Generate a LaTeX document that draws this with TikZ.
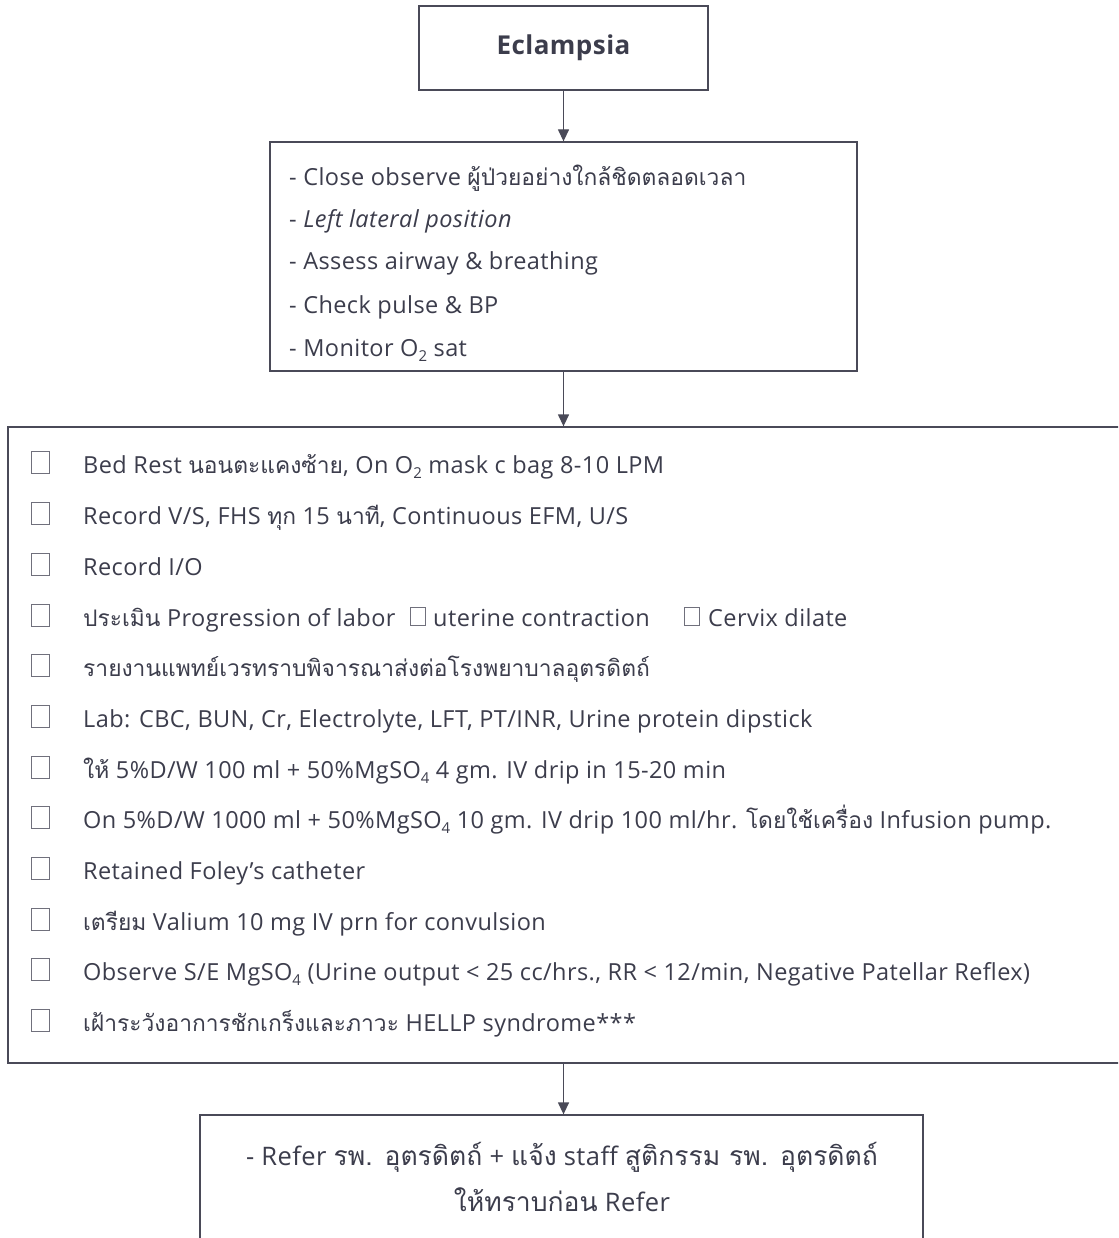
\documentclass[tikz,border=0pt]{standalone}
\usepackage{fontspec}
\setmainfont[LetterSpace=1.8]{Open Sans}
\newfontfamily\thaifont[Script=Thai]{Loma}
\usetikzlibrary{arrows.meta}
\definecolor{ink}{HTML}{3C3D4C}
\definecolor{frame}{HTML}{4A4A58}
\definecolor{tickc}{HTML}{70707C}
% Thai runs are set in Loma
\newcommand{\tha}[1]{{\thaifont\fontsize{22.8}{26}\selectfont #1}}
\newcommand{\thb}[1]{{\thaifont\fontsize{26.5}{30}\selectfont #1}}
\newcommand{\lowsub}[1]{\raisebox{-0.4ex}{\fontsize{15}{15}\selectfont #1}}
\tikzset{
  box/.style={draw=frame, line width=1.3pt, inner sep=0pt},
  flow/.style={draw=frame, line width=1.3pt, -{Triangle[length=12pt,width=11pt]}},
  item/.style={anchor=base west, text=ink, inner sep=0pt, font=\fontsize{23.5}{26}\selectfont},
  centred/.style={anchor=base, text=ink, inner sep=0pt, font=\fontsize{25.5}{30}\selectfont},
  tickbox/.style={draw=tickc, line width=0.9pt, minimum width=18pt, minimum height=22pt, inner sep=0pt},
  smalltick/.style={draw=tickc, line width=0.9pt, minimum width=15pt, minimum height=18pt, inner sep=0pt},
}
\begin{document}
\begin{tikzpicture}[x=1pt,y=-1pt]
\useasboundingbox (0,0) rectangle (1118,1238);
\fill[white] (0,0) rectangle (1118,1238);
\clip (0,0) rectangle (1118,1238);

% boxes
\node[box, minimum width=289pt, minimum height=84pt, text=ink,
      font=\fontsize{26}{30}\selectfont\bfseries] (start) at (563.5,48) {Eclampsia};
\node[box, minimum width=587pt, minimum height=229pt] (assess) at (563.5,256.5) {};
\node[box, minimum width=1122pt, minimum height=636pt] (care) at (569,745) {};
\node[box, minimum width=723pt, minimum height=135pt] (refer) at (561.5,1182.5) {};

% connectors
\draw[flow] (start.south) -- (start.south |- assess.north);
\draw[flow] (assess.south) -- (assess.south |- care.north);
\draw[flow] (assess.south |- care.south) -- (assess.south |- refer.north);

% first assessment list
\node[item] (a1) at (289,186) {- Close observe \tha{ผู้ป่วยอย่างใกล้ชิดตลอดเวลา}};
\node[item] (a2) at (289,228) {- \itshape Left lateral position};
\node[item] (a3) at (289,270) {- Assess airway \& breathing};
\node[item] (a4) at (289,313) {- Check pulse \& BP};
\node[item] (a5) at (289,356) {- Monitor O\lowsub{2} sat};

% checklist
\foreach \n/\y in {1/473,2/524,3/575,4/626,5/676,6/727,7/778,8/828,9/879,10/930,11/980,12/1031}
  \node[tickbox, anchor=south] (t\n) at (40.5,\y+1) {};

\node[item] (c1) at (83,473) {Bed Rest \tha{นอนตะแคงซ้าย}, On O\lowsub{2} mask c bag 8-10 LPM};
\node[item] (c2) at (83,524) {Record V/S, FHS \tha{ทุก} 15 \tha{นาที}, Continuous EFM, U/S};
\node[item] (c3) at (83,575) {Record I/O};
\node[item] (c4) at (83,626) {\tha{ประเมิน} Progression of labor};
\node[smalltick, anchor=south] (t4a) at (418,625.5) {};
\node[item] (c4a) at (433,626) {uterine contraction};
\node[smalltick, anchor=south] (t4b) at (692,625.5) {};
\node[item] (c4b) at (708,626) {Cervix dilate};
\node[item] (c5) at (83,676) {\tha{รายงานแพทย์เวรทราบพิจารณาส่งต่อโรงพยาบาลอุตรดิตถ์}};
\node[item] (c6) at (83,727) {Lab: CBC, BUN, Cr, Electrolyte, LFT, PT/INR, Urine protein dipstick};
\node[item] (c7) at (83,778) {\tha{ให้} 5\%D/W 100 ml + 50\%MgSO\lowsub{4} 4 gm. IV drip in 15-20 min};
\node[item] (c8) at (83,828) {On 5\%D/W 1000 ml + 50\%MgSO\lowsub{4} 10 gm. IV drip 100 ml/hr. \tha{โดยใช้เครื่อง} Infusion pump.};
\node[item] (c9) at (83,879) {Retained Foley's catheter};
\node[item] (c10) at (83,930) {\tha{เตรียม} Valium 10 mg IV prn for convulsion};
\node[item] (c11) at (83,980) {Observe S/E MgSO\lowsub{4} (Urine output < 25 cc/hrs., RR < 12/min, Negative Patellar Reflex)};
\node[item] (c12) at (83,1031) {\tha{เฝ้าระวังอาการชักเกร็งและภาวะ} HELLP syndrome***};

% referral
\node[centred] (r1) at (562,1165) {- Refer \thb{รพ. อุตรดิตถ์} + \thb{แจ้ง} staff \thb{สูติกรรม รพ. อุตรดิตถ์}};
\node[centred] (r2) at (562,1211) {\thb{ให้ทราบก่อน} Refer};
\end{tikzpicture}
\end{document}
